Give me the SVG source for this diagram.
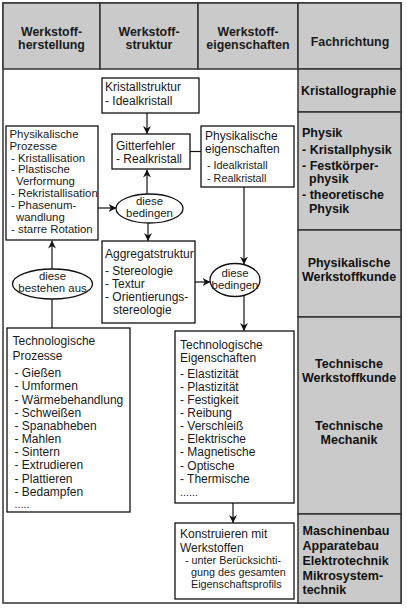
<svg xmlns="http://www.w3.org/2000/svg" width="407" height="611" viewBox="0 0 407 611">
<style>
.t{font-family:"Liberation Sans",Arial,sans-serif;font-size:12px;fill:#1a1a1a}
.n{font-family:"Liberation Sans",Arial,sans-serif;font-size:11.4px;fill:#1a1a1a}
.s{font-family:"Liberation Sans",Arial,sans-serif;font-size:10.8px;fill:#1a1a1a}
.h{font-family:"Liberation Sans",Arial,sans-serif;font-size:12.4px;font-weight:bold;fill:#1a1a1a;text-anchor:middle}
.r{font-family:"Liberation Sans",Arial,sans-serif;font-size:12.5px;font-weight:bold;fill:#111}
.c{text-anchor:middle}
.box{fill:#fff;stroke:#111;stroke-width:1.3}
.gray{fill:#cacaca;stroke:#333;stroke-width:1.5}
.ln{stroke:#111;stroke-width:1.2;fill:none}
.ar{stroke:#111;stroke-width:1.2;fill:none;marker-end:url(#ah)}
</style>
<defs>
<marker id="ah" viewBox="0 0 10 10" refX="10" refY="5" markerWidth="8" markerHeight="8" markerUnits="userSpaceOnUse" orient="auto">
<path d="M0,0 L10,5 L0,10 L3,5 Z" fill="#111"/>
</marker>
</defs>
<rect x="0" y="0" width="407" height="611" fill="#fff"/>
<g id="frame">
<rect x="3" y="3" width="398" height="600" fill="#fff" stroke="#333" stroke-width="1.5"/>
<rect class="gray" x="3" y="3" width="97" height="66"/>
<rect class="gray" x="100" y="3" width="98" height="66"/>
<rect class="gray" x="198" y="3" width="100" height="66"/>
<rect class="gray" x="298" y="3" width="103" height="66"/>
<rect class="gray" x="298" y="69" width="103" height="43"/>
<rect class="gray" x="298" y="112" width="103" height="118"/>
<rect class="gray" x="298" y="230" width="103" height="87"/>
<rect class="gray" x="298" y="317" width="103" height="197"/>
<rect class="gray" x="298" y="514" width="103" height="89"/>
</g>
<g id="header">
<text class="h" x="51.5" y="36">Werkstoff-</text>
<text class="h" x="51.5" y="48.5">herstellung</text>
<text class="h" x="149" y="36">Werkstoff-</text>
<text class="h" x="149" y="48.5">struktur</text>
<text class="h" x="248" y="36">Werkstoff-</text>
<text class="h" x="248" y="48.5">eigenschaften</text>
<text class="h" x="350" y="46">Fachrichtung</text>
</g>
<g id="fach">
<text class="r" x="301" y="95" font-size="12.2">Kristallographie</text>
<text class="r" x="302" y="137">Physik</text>
<text class="r" x="302" y="154">- Kristallphysik</text>
<text class="r" x="302" y="169.5">- Festkörper-</text>
<text class="r" x="309" y="183">physik</text>
<text class="r" x="302" y="199">- theoretische</text>
<text class="r" x="309" y="212.5">Physik</text>
<text class="r c" x="349" y="267">Physikalische</text>
<text class="r c" x="349" y="280.5">Werkstoffkunde</text>
<text class="r c" x="349" y="368">Technische</text>
<text class="r c" x="349" y="382">Werkstoffkunde</text>
<text class="r c" x="349" y="430">Technische</text>
<text class="r c" x="349" y="444">Mechanik</text>
<text class="r" x="302.5" y="535">Maschinenbau</text>
<text class="r" x="302.5" y="549.5">Apparatebau</text>
<text class="r" x="302.5" y="564.5">Elektrotechnik</text>
<text class="r" x="302.5" y="580">Mikrosystem-</text>
<text class="r" x="302.5" y="594">technik</text>
</g>
<g id="connectors">
<line class="ar" x1="147" y1="113" x2="147" y2="134"/>
<line class="ln" x1="190" y1="151.5" x2="201" y2="151.5"/>
<line class="ar" x1="147" y1="194" x2="147" y2="169.5"/>
<line class="ar" x1="148" y1="223" x2="148" y2="241"/>
<line class="ar" x1="98" y1="208" x2="116.5" y2="208"/>
<line class="ar" x1="52" y1="269" x2="52" y2="240.5"/>
<line class="ln" x1="52" y1="299" x2="52" y2="328"/>
<line class="ar" x1="244" y1="187" x2="244" y2="264.5"/>
<line class="ar" x1="195" y1="282" x2="210.5" y2="282"/>
<line class="ar" x1="244" y1="295.5" x2="244" y2="331"/>
<line class="ar" x1="233" y1="503" x2="233" y2="523"/>
</g>
<g id="kristallstruktur">
<rect class="box" x="102" y="78" width="97" height="35"/>
<text class="t" x="105" y="91">Kristallstruktur</text>
<text class="t" x="105" y="105">- Idealkristall</text>
</g>
<g id="gitterfehler">
<rect class="box" x="112" y="134" width="78" height="35"/>
<text class="t" x="116" y="150">Gitterfehler</text>
<text class="t" x="116" y="163">- Realkristall</text>
</g>
<g id="phys-eigenschaften">
<rect class="box" x="201" y="126" width="93" height="61"/>
<text class="t" x="205" y="140">Physikalische</text>
<text class="t" x="205" y="152.5">eigenschaften</text>
<text class="s" x="207" y="169">- Idealkristall</text>
<text class="s" x="207" y="182">- Realkristall</text>
</g>
<g id="phys-prozesse">
<rect class="box" x="6" y="126" width="92" height="114"/>
<text class="n" x="9.5" y="138">Physikalische</text>
<text class="n" x="9.5" y="149.5">Prozesse</text>
<text class="n" x="11" y="161.5">- Kristallisation</text>
<text class="n" x="11" y="173">- Plastische</text>
<text class="n" x="16" y="184.5">Verformung</text>
<text class="n" x="11" y="197">- Rekristallisation</text>
<text class="n" x="11" y="208.5">- Phasenum-</text>
<text class="n" x="16" y="220.5">wandlung</text>
<text class="n" x="11" y="232.5">- starre Rotation</text>
</g>
<g id="bedingen1">
<ellipse cx="149.5" cy="208.5" rx="33.5" ry="14.5" fill="#fff" stroke="#111" stroke-width="1.3"/>
<text class="n c" x="149.5" y="205">diese</text>
<text class="n c" x="149.5" y="216.5">bedingen</text>
</g>
<g id="aggregatstruktur">
<rect class="box" x="102" y="241" width="93" height="82"/>
<text class="t" x="105" y="258">Aggregatstruktur</text>
<text class="t" x="105" y="275">- Stereologie</text>
<text class="t" x="105" y="287.5">- Textur</text>
<text class="t" x="105" y="301">- Orientierungs-</text>
<text class="t" x="113" y="313.5">stereologie</text>
</g>
<g id="bedingen2">
<ellipse cx="235" cy="280" rx="25" ry="16.5" fill="#fff" stroke="#111" stroke-width="1.3"/>
<text class="n c" x="235" y="277">diese</text>
<text class="n c" x="235" y="289">bedingen</text>
</g>
<g id="bestehen">
<ellipse cx="52.5" cy="284" rx="40" ry="15" fill="#fff" stroke="#111" stroke-width="1.3"/>
<text class="n c" x="52.5" y="280">diese</text>
<text class="n c" x="52.5" y="291.5">bestehen aus</text>
</g>
<g id="tech-prozesse">
<rect class="box" x="7" y="328" width="123" height="184"/>
<text class="t" x="12.5" y="345">Technologische</text>
<text class="t" x="12.5" y="360">Prozesse</text>
<text class="t" x="14.5" y="377">- Gießen</text>
<text class="t" x="14.5" y="390">- Umformen</text>
<text class="t" x="14.5" y="403.5">- Wärmebehandlung</text>
<text class="t" x="14.5" y="416.5">- Schweißen</text>
<text class="t" x="14.5" y="429.5">- Spanabheben</text>
<text class="t" x="14.5" y="443">- Mahlen</text>
<text class="t" x="14.5" y="456">- Sintern</text>
<text class="t" x="14.5" y="469">- Extrudieren</text>
<text class="t" x="14.5" y="482.5">- Plattieren</text>
<text class="t" x="14.5" y="495.5">- Bedampfen</text>
<text class="s" x="14.5" y="508">.....</text>
</g>
<g id="tech-eigenschaften">
<rect class="box" x="175" y="331" width="119" height="172"/>
<text class="t" x="180" y="349">Technologische</text>
<text class="t" x="180" y="361.5">Eigenschaften</text>
<text class="t" x="180" y="378">- Elastizität</text>
<text class="t" x="180" y="391">- Plastizität</text>
<text class="t" x="180" y="404">- Festigkeit</text>
<text class="t" x="180" y="417">- Reibung</text>
<text class="t" x="180" y="430">- Verschleiß</text>
<text class="t" x="180" y="443">- Elektrische</text>
<text class="t" x="180" y="456">- Magnetische</text>
<text class="t" x="180" y="469.5">- Optische</text>
<text class="t" x="180" y="482.5">- Thermische</text>
<text class="s" x="180" y="496">......</text>
</g>
<g id="konstruieren">
<rect class="box" x="175" y="523" width="119" height="76"/>
<text class="t" x="180" y="537.5">Konstruieren mit</text>
<text class="t" x="180" y="552">Werkstoffen</text>
<text class="s" x="185" y="564">- unter Berücksichti-</text>
<text class="s" x="191" y="575.5">gung des gesamten</text>
<text class="s" x="191" y="587.5">Eigenschaftsprofils</text>
</g>
</svg>
